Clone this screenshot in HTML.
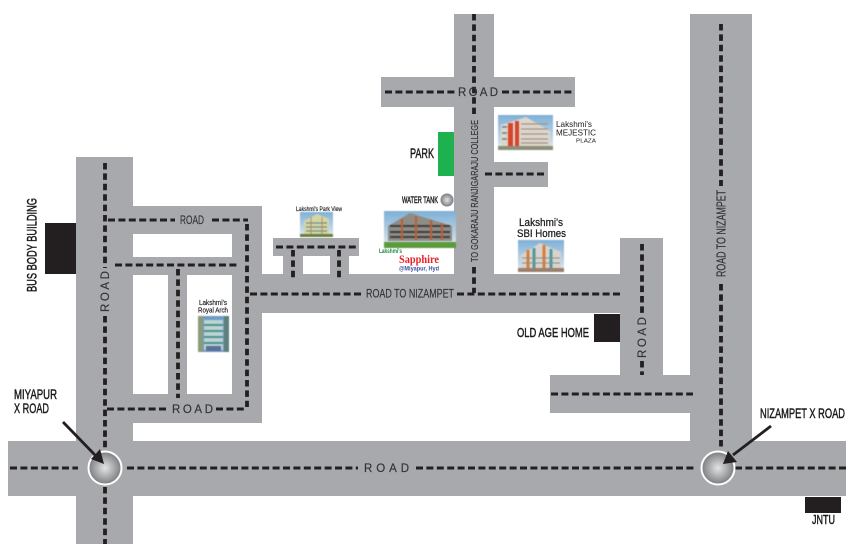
<!DOCTYPE html>
<html><head><meta charset="utf-8"><style>
html,body{margin:0;padding:0;background:#fff;width:850px;height:551px;overflow:hidden}
svg{display:block}
text{font-family:"Liberation Sans",sans-serif}
.r{fill:#a7a9ac}
.d{stroke:#231f20;stroke-width:3;stroke-dasharray:7 3.4;fill:none}
.v{stroke-width:3.8;stroke-dasharray:6.5 3.9}
.l{fill:#333336;font-size:11.5px;stroke:#333336;stroke-width:.15}
.k{fill:#1c1a1b;stroke:#1c1a1b;stroke-width:.45}
.n{fill:#1c1a1b}
.p{filter:blur(.5px)}
</style></head><body>
<svg width="850" height="551" viewBox="0 0 850 551" xmlns="http://www.w3.org/2000/svg">
<defs>
<radialGradient id="g" cx="50%" cy="50%" r="55%"><stop offset="0" stop-color="#e3e4e5"/><stop offset="1" stop-color="#707275"/></radialGradient>
<linearGradient id="sky" x1="0" y1="0" x2="0" y2="1"><stop offset="0" stop-color="#7fb0d6"/><stop offset="1" stop-color="#dfeaf0"/></linearGradient>
</defs>
<!-- roads -->
<g class="r">
<rect x="76" y="157" width="57" height="387"/>
<rect x="8" y="441" width="838" height="55"/>
<rect x="133" y="206" width="129" height="28"/>
<rect x="133" y="257" width="129" height="18"/>
<rect x="232" y="206" width="30" height="217"/>
<rect x="168" y="275" width="19" height="119"/>
<rect x="133" y="394" width="129" height="29"/>
<rect x="262" y="274" width="401" height="39"/>
<rect x="620" y="238" width="43" height="137"/>
<rect x="550" y="375" width="202" height="38"/>
<rect x="690" y="14" width="62" height="430"/>
<rect x="454" y="14" width="40" height="260"/>
<rect x="381" y="77" width="194" height="30"/>
<rect x="493" y="162" width="55" height="25"/>
<rect x="273" y="238" width="86" height="18"/>
<rect x="283" y="256" width="20" height="18"/>
<rect x="330" y="256" width="19" height="18"/>
</g>
<rect x="438" y="132" width="16" height="44" fill="#1db24f"/>
<rect x="45" y="223" width="31" height="51" fill="#231f20"/>
<rect x="594" y="314" width="26" height="28" fill="#231f20"/>
<rect x="805" y="497" width="36" height="16" fill="#231f20"/>
<!-- dashed -->
<path class="d v" d="M105 163V268M105 316V448M105 487V544"/>
<path class="d" d="M108 220H175M212 220H248"/>
<path class="d v" d="M247 224V407"/>
<path class="d" d="M115 265H237"/>
<path class="d v" d="M178 269V398"/>
<path class="d" d="M107 409H166M216 409H244"/>
<path class="d" d="M250 294H362M457 294H622"/>
<path class="d v" d="M474 14V114M474 267V293"/>
<path class="d" d="M385 92H455M502 92H572"/>
<path class="d" d="M485 174H545"/>
<path class="d" d="M276 247H358"/>
<path class="d v" d="M293 250V278M339 250V278"/>
<path class="d v" d="M642 244V314M642 361V375"/>
<path class="d" d="M551 394H693"/>
<path class="d v" d="M721 24V186M721 284V447"/>
<path class="d" d="M10 468H78M127 468H358M416 468H695M735 468H846"/>
<!-- circles -->
<circle cx="105" cy="468" r="16.5" fill="url(#g)" stroke="#fff" stroke-width="2"/>
<circle cx="718" cy="468" r="16.5" fill="url(#g)" stroke="#fff" stroke-width="2"/>
<!-- arrows -->
<path d="M63 422L95 455" stroke="#231f20" stroke-width="2.8"/>
<path d="M104 464L91 459L100 449Z" fill="#231f20"/>
<path d="M771 426L733 455" stroke="#231f20" stroke-width="2.8"/>
<path d="M723 464L728 451L737 462Z" fill="#231f20"/>
<circle cx="447" cy="200" r="6.5" fill="url(#g)"/>
<!-- Park view image -->
<g class="p">
<rect x="300" y="212" width="33" height="25" fill="url(#sky)"/>
<path d="M304 221L317 214L329 219V234H304Z" fill="#d4d6a8"/>
<path d="M306 223H327M306 227H327M306 231H327" stroke="#6f8f8c" stroke-width="1.3"/>
<path d="M311 217V234M322 217V234" stroke="#c08a50" stroke-width="1"/>
<rect x="300" y="234" width="33" height="3" fill="#66803f"/>
</g>
<!-- Royal arch image -->
<g class="p">
<rect x="198" y="316" width="31" height="36" fill="#6f9cc4"/>
<rect x="204" y="320" width="19" height="30" fill="#bcd4d0"/>
<path d="M204 325H223M204 331H223M204 337H223M204 343H223" stroke="#4f8f94" stroke-width="2"/>
<rect x="198" y="316" width="5" height="36" fill="#8c9a7c"/>
<rect x="224" y="316" width="5" height="36" fill="#5e7f7c"/>
<rect x="206" y="346" width="15" height="5" fill="#5a6f9a"/>
</g>
<!-- Majestic image -->
<g class="p">
<rect x="498" y="115" width="55" height="35" fill="url(#sky)"/>
<path d="M501 125L526 117L550 131V146H501Z" fill="#ded6cb"/>
<rect x="508" y="123" width="5" height="23" fill="#d8432b"/>
<rect x="515" y="121" width="4" height="25" fill="#d8432b"/>
<path d="M502 127H507M502 133H507M502 139H507" stroke="#6a7f8c" stroke-width="1.5"/>
<path d="M521 124H548M521 129H548M521 134H548M521 139H548M521 143H548" stroke="#a0958a" stroke-width="1.3"/>
<rect x="498" y="146" width="55" height="4" fill="#8b8f78"/>
</g>
<!-- Sapphire image -->
<g class="p">
<rect x="384" y="211" width="72" height="37" fill="url(#sky)"/>
<path d="M388 226L410 213L452 226V241H388Z" fill="#8f8c86"/>
<path d="M390 226H450M390 232H450M390 237H450" stroke="#3f3e3c" stroke-width="2"/>
<path d="M402 219V240M416 216V240M431 220V240M442 223V240" stroke="#b5623a" stroke-width="2.2"/>
<rect x="384" y="242" width="72" height="6" fill="#5c9a3c"/>
</g>
<!-- SBI image -->
<g class="p">
<rect x="518" y="240" width="46" height="32" fill="url(#sky)"/>
<path d="M521 255L540 243L561 252V268H521Z" fill="#d8d4cd"/>
<path d="M528 250V268M544 245V268" stroke="#d97c3c" stroke-width="3"/>
<path d="M534 248V268M551 249V268" stroke="#4f9a9c" stroke-width="3"/>
<path d="M522 258H560M522 263H560" stroke="#8a8d90" stroke-width="1"/>
<rect x="518" y="268" width="46" height="4" fill="#9a7f6c"/>
</g>
<!-- road labels -->
<text class="l" x="180" y="224" textLength="24" lengthAdjust="spacingAndGlyphs">ROAD</text>
<text class="l" x="172" y="413" textLength="41">ROAD</text>
<text class="l" x="366" y="297.500" textLength="88" lengthAdjust="spacingAndGlyphs">ROAD TO  NIZAMPET</text>
<text class="l" x="458" y="96" textLength="40">ROAD</text>
<text class="l" x="364" y="472" textLength="45">ROAD</text>
<text class="l" transform="translate(109,312) rotate(-90)" textLength="41">ROAD</text>
<text class="l" transform="translate(646,358) rotate(-90)" textLength="41">ROAD</text>
<text class="l" transform="translate(725.500,277) rotate(-90)" style="font-size:12.5px" textLength="87" lengthAdjust="spacingAndGlyphs">ROAD TO  NIZAMPET</text>
<text class="l" transform="translate(478,262) rotate(-90)" style="font-size:10.5px" textLength="142" lengthAdjust="spacingAndGlyphs">TO GOKARAJU RANJIGARAJU COLLEGE</text>
<!-- place labels -->
<text class="k" transform="translate(36.500,292) rotate(-90)" font-size="14" textLength="94" lengthAdjust="spacingAndGlyphs">BUS BODY BUILDING</text>
<text class="k" x="410" y="158" font-size="13.500" textLength="24" lengthAdjust="spacingAndGlyphs">PARK</text>
<text class="k" x="402" y="203" font-size="9.500" textLength="36" lengthAdjust="spacingAndGlyphs">WATER TANK</text>
<text class="k" x="296" y="211" font-size="6" textLength="46" lengthAdjust="spacingAndGlyphs" style="stroke-width:.15">Lakshmi's Park View</text>
<text class="k" x="199" y="305" font-size="7" textLength="28" lengthAdjust="spacingAndGlyphs" style="stroke-width:.15">Lakshmi's</text>
<text class="k" x="198" y="312.500" font-size="7" textLength="30" lengthAdjust="spacingAndGlyphs" style="stroke-width:.15">Royal Arch</text>
<text class="n" x="556" y="127" font-size="8.500" textLength="36" lengthAdjust="spacingAndGlyphs">Lakshmi's</text>
<text class="n" x="556" y="135.500" font-size="8" textLength="40" lengthAdjust="spacingAndGlyphs">MEJESTIC</text>
<text class="n" x="576" y="142.500" font-size="5.500" textLength="20" lengthAdjust="spacingAndGlyphs">PLAZA</text>
<text x="379" y="253" font-size="6" font-weight="bold" fill="#1f8a4a" textLength="23" lengthAdjust="spacingAndGlyphs">Lakshmi's</text>
<text x="399" y="263" font-size="11.500" font-weight="bold" fill="#e8202a" textLength="40" lengthAdjust="spacingAndGlyphs" style="font-family:'Liberation Serif',serif">Sapphire</text>
<text x="399" y="270.500" font-size="6.500" font-weight="bold" fill="#3a4fa0" textLength="40" lengthAdjust="spacingAndGlyphs">@Miyapur, Hyd</text>
<text class="k" x="519" y="226" font-size="11" textLength="44" lengthAdjust="spacingAndGlyphs" style="stroke-width:.25">Lakshmi's</text>
<text class="k" x="517" y="237" font-size="11" textLength="49" lengthAdjust="spacingAndGlyphs" style="stroke-width:.25">SBI Homes</text>
<text class="k" x="517" y="337" font-size="13" textLength="72" lengthAdjust="spacingAndGlyphs">OLD AGE HOME</text>
<text class="k" x="14" y="399" font-size="14" textLength="43" lengthAdjust="spacingAndGlyphs">MIYAPUR</text>
<text class="k" x="14" y="413" font-size="14" textLength="35" lengthAdjust="spacingAndGlyphs">X ROAD</text>
<text class="k" x="760" y="418" font-size="13.500" textLength="85" lengthAdjust="spacingAndGlyphs">NIZAMPET X ROAD</text>
<text class="k" x="812" y="524" font-size="12.500" textLength="23" lengthAdjust="spacingAndGlyphs">JNTU</text>
</svg>
</body></html>
